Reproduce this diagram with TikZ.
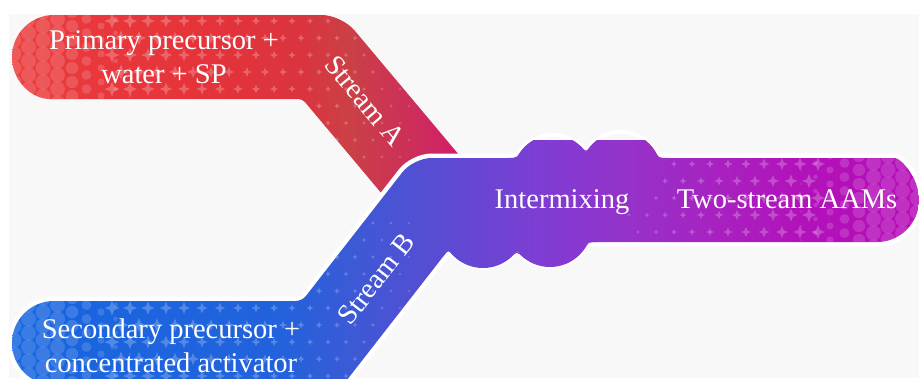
\documentclass[tikz,border=0pt]{standalone}
\usepackage{fontspec}
\setmainfont{Liberation Serif}

\definecolor{bgmain}{HTML}{F8F8F9}
% stream A colours
\definecolor{rA0}{HTML}{EC3C3E}
\definecolor{rA1}{HTML}{E5333A}
\definecolor{rA2}{HTML}{DB343E}
\definecolor{rA3}{HTML}{CB4046}
\definecolor{rA4}{HTML}{CD2C5C}
\definecolor{rA5}{HTML}{D5186E}
% stream B / product colours
\definecolor{bB0}{HTML}{1766E0}
\definecolor{bB1}{HTML}{2262DC}
\definecolor{bB2}{HTML}{3B5AD6}
\definecolor{bB3}{HTML}{5A4BD2}
\definecolor{bB4}{HTML}{7E3DD3}
\definecolor{bB5}{HTML}{9830C8}
\definecolor{bB6}{HTML}{A821C0}
\definecolor{bB7}{HTML}{B212BA}
\definecolor{bB8}{HTML}{B50CB8}

% the shaded rectangle spans 25bp..75bp of each shading
\pgfdeclarehorizontalshading{streamAshade}{100bp}{%
  color(0bp)=(rA0); color(25bp)=(rA0); color(45.5bp)=(rA1);
  color(56.4bp)=(rA2); color(61.9bp)=(rA3); color(69.5bp)=(rA4);
  color(75bp)=(rA5); color(100bp)=(rA5)}
\pgfdeclarehorizontalshading{streamBshade}{100bp}{%
  color(0bp)=(bB0); color(25bp)=(bB0); color(39.8bp)=(bB1);
  color(43.6bp)=(bB2); color(48.6bp)=(bB3); color(54.1bp)=(bB4);
  color(59.6bp)=(bB5); color(64bp)=(bB6); color(68.4bp)=(bB7);
  color(75bp)=(bB8); color(100bp)=(bB8)}

% four-pointed sparkle: x, y, size
\newcommand{\sparkle}[3]{%
  \fill (#1,{#2-#3}) -- ({#1+0.28*#3},{#2-0.28*#3}) -- ({#1+#3},#2)
    -- ({#1+0.28*#3},{#2+0.28*#3}) -- (#1,{#2+#3})
    -- ({#1-0.28*#3},{#2+0.28*#3}) -- ({#1-#3},#2)
    -- ({#1-0.28*#3},{#2-0.28*#3}) -- cycle;}

\tikzset{
  lbl/.style={text=white, inner sep=0pt, font=\fontsize{28.5}{34}\selectfont},
  dots/.style={fill=white, fill opacity=0.15},
  stars/.style={fill=white, fill opacity=0.24},
}

\begin{document}
\begin{tikzpicture}[x=1pt,y=-1pt]
\useasboundingbox (0,0) rectangle (919,378);
\fill[white] (0,0) rectangle (919,378);
\fill[bgmain] (9,14) rectangle (919,378);

% ---------- stream A ----------
\begin{scope}
  \clip (54,15) [rounded corners=20pt] -- (341.6,15) -- (470,168) [sharp corners]
    -- (405.5,222) [rounded corners=4pt] -- (302.4,99) -- (54,99) [sharp corners]
    arc[start angle=270,end angle=90,radius=42pt] -- cycle;
  \shade[shading=streamAshade] (12,10) rectangle (470,230);
  \foreach \i in {0,...,8}{
    \foreach \j in {0,...,6}{
      \pgfmathsetmacro\cx{14+14.5*\i}
      \pgfmathsetmacro\cy{12+14*\j+7*mod(\i,2)}
      \pgfmathsetmacro\rr{\i<4 ? 7.5 : 7.5-1.3*(\i-3)}
      \fill[dots] (\cx,\cy) circle[radius=\rr pt];
    }}
  \foreach \i in {0,...,16}{
    \foreach \j in {0,...,8}{
      \pgfmathsetmacro\sx{112+18*\i+9*mod(\j,2)}
      \pgfmathsetmacro\sy{21+17*\j}
      \pgfmathsetmacro\ss{max(1.4,7.5-0.38*\i)}
      \begin{scope}[stars]\sparkle{\sx}{\sy}{\ss}\end{scope}
    }}
\end{scope}

% ---------- white rim round stream B and the mixing zone ----------
\draw[white, line width=9pt, line join=round]
  (54,301) [rounded corners=6pt] -- (302,301) [rounded corners=18pt] -- (413.5,158)
  -- (877,158) [sharp corners] arc[start angle=90,end angle=-90,radius=42pt]
  -- (454.5,242) -- (343,385) -- (54,385)
  arc[start angle=270,end angle=90,radius=42pt] -- cycle;
\draw[white, line width=4pt]
  (553,175) circle[radius=40pt] (621,172) circle[radius=40pt]
  (483,226) circle[radius=42pt] (550,225) circle[radius=42pt];

% ---------- stream B and product ----------
\begin{scope}
  \clip (54,301) [rounded corners=6pt] -- (302,301) [rounded corners=18pt] -- (413.5,158)
    -- (877,158) [sharp corners] arc[start angle=90,end angle=-90,radius=42pt]
    -- (454.5,242) -- (343,385) -- (54,385)
    arc[start angle=270,end angle=90,radius=42pt] -- cycle;
  \shade[shading=streamBshade] (12,140) rectangle (919,390);
  % blue end
  \foreach \i in {0,...,8}{
    \foreach \j in {0,...,6}{
      \pgfmathsetmacro\cx{14+14.5*\i}
      \pgfmathsetmacro\cy{298+14*\j+7*mod(\i,2)}
      \pgfmathsetmacro\rr{\i<4 ? 7.5 : 7.5-1.3*(\i-3)}
      \fill[dots] (\cx,\cy) circle[radius=\rr pt];
    }}
  \foreach \i in {0,...,16}{
    \foreach \j in {-5,...,5}{
      \pgfmathsetmacro\sx{112+18*\i+9*mod(\j+6,2)}
      \pgfmathsetmacro\sy{308+17*\j}
      \pgfmathsetmacro\ss{max(1.4,7.5-0.38*\i)}
      \begin{scope}[stars]\sparkle{\sx}{\sy}{\ss}\end{scope}
    }}
  % product end
  \foreach \i in {0,...,8}{
    \foreach \j in {0,...,6}{
      \pgfmathsetmacro\cx{917-14.5*\i}
      \pgfmathsetmacro\cy{156+14*\j+7*mod(\i,2)}
      \pgfmathsetmacro\rr{\i<4 ? 7.5 : 7.5-1.3*(\i-3)}
      \fill[dots] (\cx,\cy) circle[radius=\rr pt];
    }}
  \foreach \i in {0,...,10}{
    \foreach \j in {0,...,5}{
      \pgfmathsetmacro\sx{818-18*\i-9*mod(\j,2)}
      \pgfmathsetmacro\sy{164+17*\j}
      \pgfmathsetmacro\ss{max(1.4,7-0.5*\i)}
      \begin{scope}[stars]\sparkle{\sx}{\sy}{\ss}\end{scope}
    }}
\end{scope}

% ---------- mixing bulges ----------
\begin{scope}
  \clip (553,175) circle[radius=40pt] (621,172) circle[radius=40pt]
    (483,226) circle[radius=42pt] (550,225) circle[radius=42pt];
  \shade[shading=streamBshade] (12,140) rectangle (919,390);
\end{scope}
% smooth fillets where the bulges meet the band and each other
\begin{scope}
  \clip (507,158) -- (516.8,158) -- (521.8,150) .. controls (516.8,158) .. (507,158) -- cycle
        (580,145.5) -- (586.1,152.5) -- (592,144.5) .. controls (586.1,152.5) .. (580,145.5) -- cycle
        (654.4,150) -- (658.5,158) -- (668,158) .. controls (658.5,158) .. (654.4,150) -- cycle
        (443.5,256.1) -- (448.4,249.8) -- (453.6,256) .. controls (448.4,249.8) .. (443.5,256.1) -- cycle
        (509,259) -- (516.5,251) -- (524,258) .. controls (516.5,251) .. (509,259) -- cycle
        (584.5,249) -- (588.4,242) -- (598,242) .. controls (588.4,242) .. (584.5,249) -- cycle;
  \shade[shading=streamBshade] (12,140) rectangle (919,390);
\end{scope}

% ---------- labels ----------
\node[lbl, align=center] (primary) at (164,57) {Primary precursor +\\water + SP};
\node[lbl, align=center] (secondary) at (171,346) {Secondary precursor +\\concentrated activator};
\node[lbl, anchor=base] (mixing) at (562,208) {Intermixing};
\node[lbl, anchor=base] (product) at (787,208) {Two-stream AAMs};
\node[lbl, rotate=-50] (streamA) at (365,101) {Stream A};
\node[lbl, rotate=52] (streamB) at (376,279) {Stream B};
\end{tikzpicture}
\end{document}
